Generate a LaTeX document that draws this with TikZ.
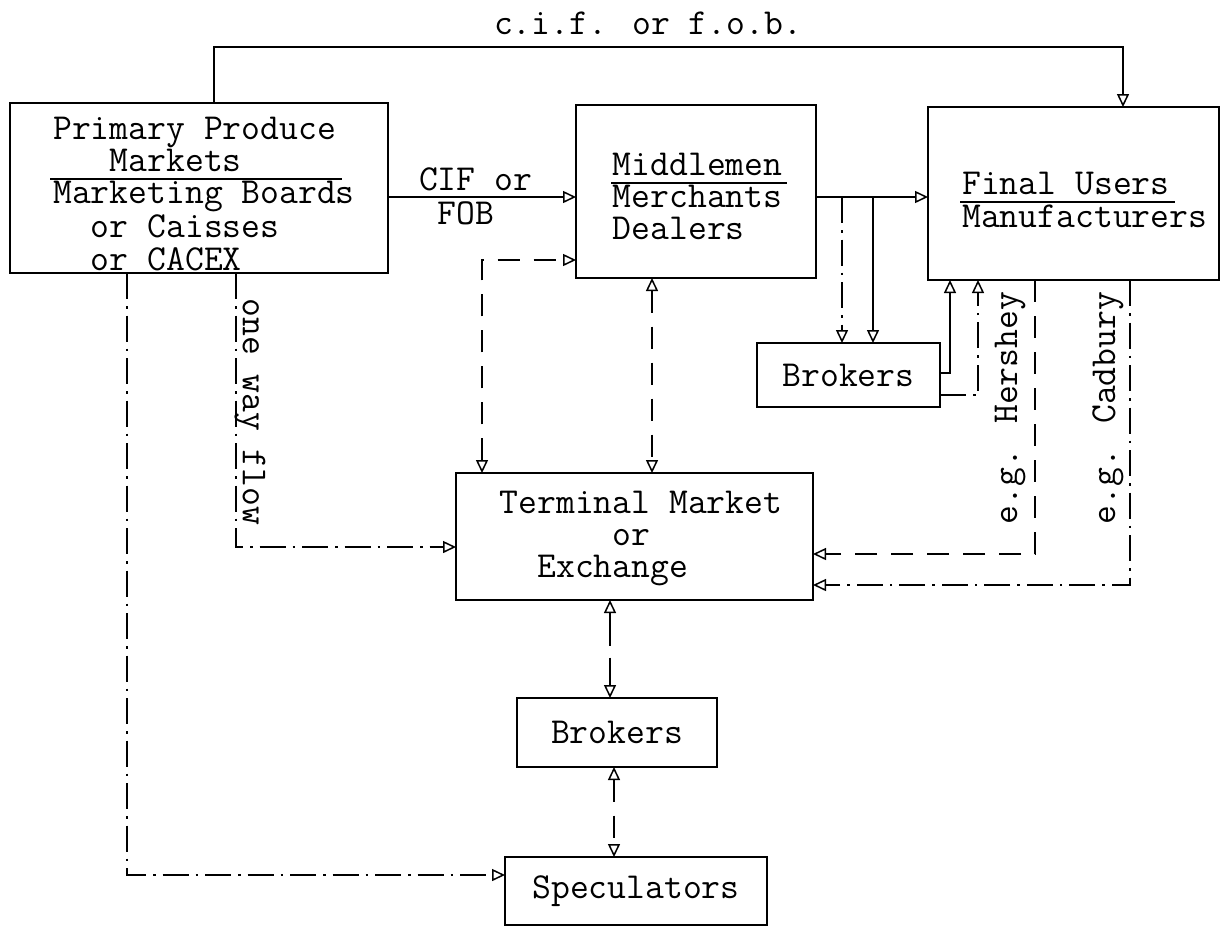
\documentclass[tikz,border=0pt]{standalone}
\usepackage{fontspec}
\usetikzlibrary{arrows.meta}
\newcommand\typew{\fontsize{36.6}{32}\selectfont\ttfamily}
\begin{document}
\begin{tikzpicture}[x=1pt,y=-1pt,
  box/.style={draw,line width=1.6pt,inner sep=0pt,outer sep=0pt,font=\typew},
  txt/.style={font=\typew,align=left,inner sep=0pt},
  ln/.style={line width=1.5pt},
  tip/.tip={Triangle[open,length=13pt,width=12pt,line width=1.5pt]},
  arr/.style={-tip},
  both/.style={tip-tip},
  dsh/.style={dash pattern=on 22pt off 14pt},
  longdsh/.style={dash pattern=on 33pt off 12pt},
  dd/.style={dash pattern=on 26pt off 7pt on 2.5pt off 7pt}]
\useasboundingbox (0,0) rectangle (1222,930);

% boxes
\node[box,minimum width=378pt,minimum height=170pt] (pp) at (199,188) {};
\node[box,minimum width=240pt,minimum height=173pt] (mm) at (696,191.5) {};
\node[box,minimum width=291pt,minimum height=173pt] (fu) at (1073.5,193.5) {};
\node[box,minimum width=183pt,minimum height=64pt] (rb) at (848.5,375) {Brokers};
\node[box,minimum width=357pt,minimum height=127pt] (tm) at (634.5,536.5) {};
\node[box,minimum width=200pt,minimum height=69pt] (bk) at (617,732.5) {Brokers};
\node[box,minimum width=262pt,minimum height=68pt] (sp) at (636,891) {Speculators};

% box texts
\node[txt] (ppt) at (204,199) {\strut Primary Produce\\\strut\phantom{Mar}Markets\\\strut Marketing Boards\\\strut\phantom{Ma}or Caisses\\\strut\phantom{Ma}or CACEX};
\node[txt] (mmt) at (697.6,201) {\strut Middlemen\\\strut Merchants\\\strut Dealers};
\node[txt] (fut) at (1084.8,204.6) {\strut Final Users\\\strut Manufacturers};
\node[txt] (tmt) at (641,539) {\strut Terminal Market\\\strut\phantom{Termin}or\\\strut\phantom{Te}Exchange};

% underlines
\draw[ln] (50,179) -- (342,179);
\draw[ln] (611,183) -- (787,183);
\draw[ln] (960,202) -- (1175,202);

% labels
\node[txt] (ciflab) at (648,23) {c.i.f. or f.o.b.};
\node[txt] (cif) at (475.6,201) {\strut CIF or\\\strut\phantom{C}FOB};
\node[txt,rotate=-90] (owl) at (250,412) {one way flow};
\node[txt,rotate=90] (hsl) at (1010,408) {e.g. Hershey};
\node[txt,rotate=90] (cbl) at (1108,408) {e.g. Cadbury};

% top connector
\coordinate (c1) at (214,47);
\coordinate (c2) at (1123,47);
\draw[ln,arr] (c1 |- pp.north) -- (c1) -- (c2) -- (c2 |- fu.north);

% main flow
\coordinate (h1) at (0,197);
\draw[ln,arr] (pp.east |- h1) -- (mm.west |- h1);
\draw[ln,arr] (mm.east |- h1) -- (fu.west |- h1);
\coordinate (j1) at (842,197);
\coordinate (j2) at (873,197);
\draw[ln,dd,arr] (j1) -- (j1 |- rb.north);
\draw[ln,arr] (j2) -- (j2 |- rb.north);

% middlemen <-> terminal
\coordinate (d1) at (482,260);
\draw[ln,dsh,both] (d1 |- tm.north) -- (d1) -- (d1 -| mm.west);
\coordinate (d2) at (652,0);
\draw[ln,dsh,both] (d2 |- mm.south) -- (d2 |- tm.north);

% brokers -> final users
\coordinate (r1) at (950,373);
\coordinate (r2) at (978,395);
\draw[ln,arr] (r1 -| rb.east) -- (r1) -- (r1 |- fu.south);
\draw[ln,dd,arr] (r2 -| rb.east) -- (r2) -- (r2 |- fu.south);

% final users -> terminal
\coordinate (hs) at (1035,554);
\coordinate (cb) at (1130,585);
\draw[ln,dsh,arr] (hs |- fu.south) -- (hs) -- (hs -| tm.east);
\draw[ln,dd,arr] (cb |- fu.south) -- (cb) -- (cb -| tm.east);

% primary -> terminal / speculators
\coordinate (ow) at (236,547);
\draw[ln,dd,arr] (ow |- pp.south) -- (ow) -- (ow -| tm.west);
\coordinate (sl) at (127,875);
\draw[ln,dd,arr] (sl |- pp.south) -- (sl) -- (sl -| sp.west);

% terminal <-> brokers <-> speculators
\coordinate (b1) at (610,0);
\draw[ln,longdsh,both] (b1 |- tm.south) -- (b1 |- bk.north);
\coordinate (b2) at (614,0);
\draw[ln,dsh,both] (b2 |- bk.south) -- (b2 |- sp.north);
\end{tikzpicture}
\end{document}
